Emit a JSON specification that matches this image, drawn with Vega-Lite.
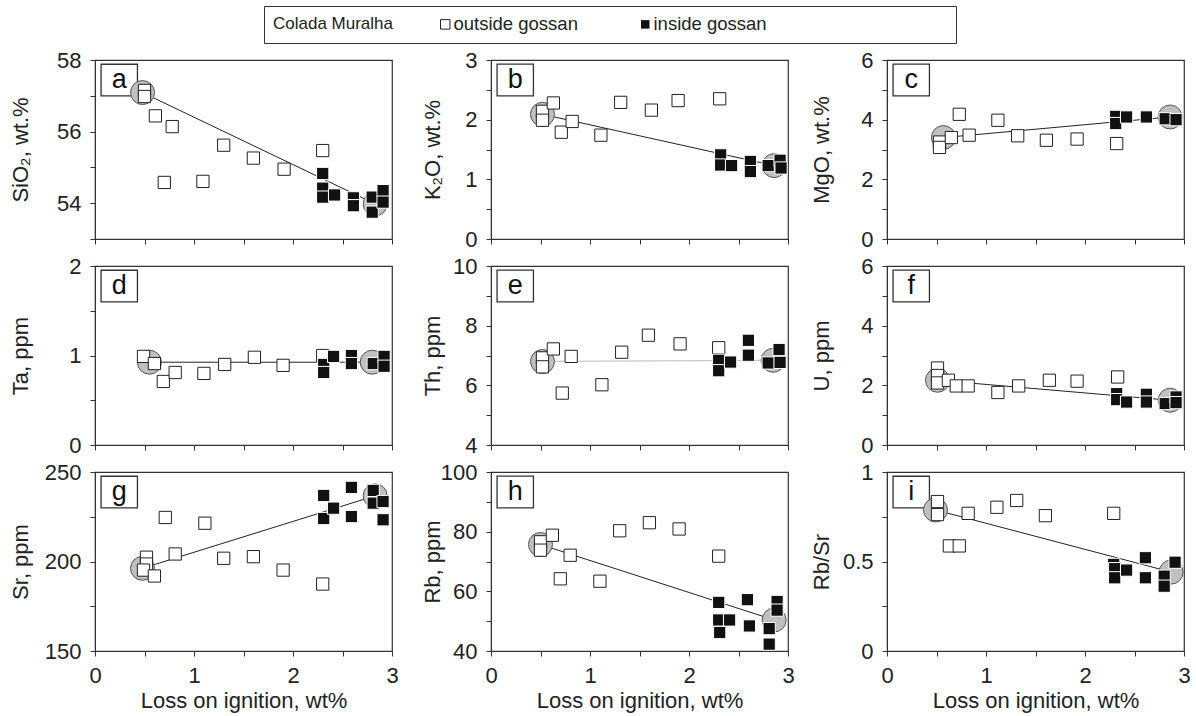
{
  "$schema": "https://vega.github.io/schema/vega-lite/v6.json",
  "padding": {"left": 8, "top": 5, "right": 5, "bottom": 3},
  "bounds": "flush",
  "columns": 3,
  "spacing": {"row": 27, "column": 99},
  "datasets": {
    "ends": [
      {"panel": "a", "loi": 0.48, "value": 57.09}, {"panel": "a", "loi": 2.83, "value": 53.98},
      {"panel": "b", "loi": 0.52, "value": 2.09}, {"panel": "b", "loi": 2.86, "value": 1.23},
      {"panel": "c", "loi": 0.57, "value": 3.40}, {"panel": "c", "loi": 2.86, "value": 4.09},
      {"panel": "d", "loi": 0.55, "value": 0.925}, {"panel": "d", "loi": 2.80, "value": 0.925},
      {"panel": "e", "loi": 0.52, "value": 6.80}, {"panel": "e", "loi": 2.85, "value": 6.84},
      {"panel": "f", "loi": 0.51, "value": 2.17}, {"panel": "f", "loi": 2.86, "value": 1.50},
      {"panel": "g", "loi": 0.48, "value": 196.2}, {"panel": "g", "loi": 2.83, "value": 236.7},
      {"panel": "h", "loi": 0.50, "value": 75.7}, {"panel": "h", "loi": 2.86, "value": 50.4},
      {"panel": "i", "loi": 0.49, "value": 0.788}, {"panel": "i", "loi": 2.87, "value": 0.441}
    ],
    "pts": [
      {"panel": "a", "loi": 0.50, "value": 57.15, "group": "outside gossan"},
      {"panel": "a", "loi": 0.50, "value": 56.98, "group": "outside gossan"},
      {"panel": "a", "loi": 0.61, "value": 56.44, "group": "outside gossan"},
      {"panel": "a", "loi": 0.78, "value": 56.14, "group": "outside gossan"},
      {"panel": "a", "loi": 0.70, "value": 54.58, "group": "outside gossan"},
      {"panel": "a", "loi": 1.09, "value": 54.61, "group": "outside gossan"},
      {"panel": "a", "loi": 1.30, "value": 55.62, "group": "outside gossan"},
      {"panel": "a", "loi": 1.60, "value": 55.26, "group": "outside gossan"},
      {"panel": "a", "loi": 1.91, "value": 54.95, "group": "outside gossan"},
      {"panel": "a", "loi": 2.30, "value": 55.47, "group": "outside gossan"},
      {"panel": "a", "loi": 2.30, "value": 54.83, "group": "inside gossan"},
      {"panel": "a", "loi": 2.30, "value": 54.42, "group": "inside gossan"},
      {"panel": "a", "loi": 2.30, "value": 54.17, "group": "inside gossan"},
      {"panel": "a", "loi": 2.42, "value": 54.23, "group": "inside gossan"},
      {"panel": "a", "loi": 2.61, "value": 54.15, "group": "inside gossan"},
      {"panel": "a", "loi": 2.61, "value": 53.93, "group": "inside gossan"},
      {"panel": "a", "loi": 2.80, "value": 54.17, "group": "inside gossan"},
      {"panel": "a", "loi": 2.80, "value": 53.75, "group": "inside gossan"},
      {"panel": "a", "loi": 2.91, "value": 54.35, "group": "inside gossan"},
      {"panel": "a", "loi": 2.91, "value": 54.03, "group": "inside gossan"},

      {"panel": "b", "loi": 0.52, "value": 2.14, "group": "outside gossan"},
      {"panel": "b", "loi": 0.52, "value": 1.99, "group": "outside gossan"},
      {"panel": "b", "loi": 0.63, "value": 2.28, "group": "outside gossan"},
      {"panel": "b", "loi": 0.71, "value": 1.79, "group": "outside gossan"},
      {"panel": "b", "loi": 0.82, "value": 1.97, "group": "outside gossan"},
      {"panel": "b", "loi": 1.11, "value": 1.74, "group": "outside gossan"},
      {"panel": "b", "loi": 1.31, "value": 2.29, "group": "outside gossan"},
      {"panel": "b", "loi": 1.62, "value": 2.16, "group": "outside gossan"},
      {"panel": "b", "loi": 1.89, "value": 2.32, "group": "outside gossan"},
      {"panel": "b", "loi": 2.31, "value": 2.35, "group": "outside gossan"},
      {"panel": "b", "loi": 2.32, "value": 1.41, "group": "inside gossan"},
      {"panel": "b", "loi": 2.32, "value": 1.24, "group": "inside gossan"},
      {"panel": "b", "loi": 2.43, "value": 1.23, "group": "inside gossan"},
      {"panel": "b", "loi": 2.62, "value": 1.30, "group": "inside gossan"},
      {"panel": "b", "loi": 2.62, "value": 1.13, "group": "inside gossan"},
      {"panel": "b", "loi": 2.80, "value": 1.23, "group": "inside gossan"},
      {"panel": "b", "loi": 2.92, "value": 1.32, "group": "inside gossan"},
      {"panel": "b", "loi": 2.93, "value": 1.19, "group": "inside gossan"},

      {"panel": "c", "loi": 0.53, "value": 3.25, "group": "outside gossan"},
      {"panel": "c", "loi": 0.53, "value": 3.07, "group": "outside gossan"},
      {"panel": "c", "loi": 0.65, "value": 3.40, "group": "outside gossan"},
      {"panel": "c", "loi": 0.73, "value": 4.18, "group": "outside gossan"},
      {"panel": "c", "loi": 0.83, "value": 3.48, "group": "outside gossan"},
      {"panel": "c", "loi": 1.12, "value": 3.98, "group": "outside gossan"},
      {"panel": "c", "loi": 1.32, "value": 3.46, "group": "outside gossan"},
      {"panel": "c", "loi": 1.61, "value": 3.31, "group": "outside gossan"},
      {"panel": "c", "loi": 1.92, "value": 3.35, "group": "outside gossan"},
      {"panel": "c", "loi": 2.32, "value": 3.20, "group": "outside gossan"},
      {"panel": "c", "loi": 2.31, "value": 4.11, "group": "inside gossan"},
      {"panel": "c", "loi": 2.31, "value": 3.87, "group": "inside gossan"},
      {"panel": "c", "loi": 2.42, "value": 4.09, "group": "inside gossan"},
      {"panel": "c", "loi": 2.62, "value": 4.09, "group": "inside gossan"},
      {"panel": "c", "loi": 2.81, "value": 4.03, "group": "inside gossan"},
      {"panel": "c", "loi": 2.92, "value": 4.00, "group": "inside gossan"},

      {"panel": "d", "loi": 0.49, "value": 0.99, "group": "outside gossan"},
      {"panel": "d", "loi": 0.60, "value": 0.91, "group": "outside gossan"},
      {"panel": "d", "loi": 0.69, "value": 0.71, "group": "outside gossan"},
      {"panel": "d", "loi": 0.81, "value": 0.81, "group": "outside gossan"},
      {"panel": "d", "loi": 1.10, "value": 0.80, "group": "outside gossan"},
      {"panel": "d", "loi": 1.31, "value": 0.90, "group": "outside gossan"},
      {"panel": "d", "loi": 1.61, "value": 0.98, "group": "outside gossan"},
      {"panel": "d", "loi": 1.90, "value": 0.89, "group": "outside gossan"},
      {"panel": "d", "loi": 2.30, "value": 1.00, "group": "outside gossan"},
      {"panel": "d", "loi": 2.31, "value": 0.90, "group": "inside gossan"},
      {"panel": "d", "loi": 2.31, "value": 0.81, "group": "inside gossan"},
      {"panel": "d", "loi": 2.41, "value": 0.99, "group": "inside gossan"},
      {"panel": "d", "loi": 2.59, "value": 1.00, "group": "inside gossan"},
      {"panel": "d", "loi": 2.59, "value": 0.91, "group": "inside gossan"},
      {"panel": "d", "loi": 2.81, "value": 0.91, "group": "inside gossan"},
      {"panel": "d", "loi": 2.92, "value": 0.99, "group": "inside gossan"},
      {"panel": "d", "loi": 2.92, "value": 0.88, "group": "inside gossan"},

      {"panel": "e", "loi": 0.52, "value": 6.92, "group": "outside gossan"},
      {"panel": "e", "loi": 0.52, "value": 6.62, "group": "outside gossan"},
      {"panel": "e", "loi": 0.63, "value": 7.22, "group": "outside gossan"},
      {"panel": "e", "loi": 0.72, "value": 5.74, "group": "outside gossan"},
      {"panel": "e", "loi": 0.81, "value": 6.97, "group": "outside gossan"},
      {"panel": "e", "loi": 1.12, "value": 6.02, "group": "outside gossan"},
      {"panel": "e", "loi": 1.32, "value": 7.11, "group": "outside gossan"},
      {"panel": "e", "loi": 1.59, "value": 7.68, "group": "outside gossan"},
      {"panel": "e", "loi": 1.91, "value": 7.39, "group": "outside gossan"},
      {"panel": "e", "loi": 2.30, "value": 7.26, "group": "outside gossan"},
      {"panel": "e", "loi": 2.30, "value": 6.84, "group": "inside gossan"},
      {"panel": "e", "loi": 2.30, "value": 6.49, "group": "inside gossan"},
      {"panel": "e", "loi": 2.42, "value": 6.78, "group": "inside gossan"},
      {"panel": "e", "loi": 2.60, "value": 7.51, "group": "inside gossan"},
      {"panel": "e", "loi": 2.60, "value": 7.01, "group": "inside gossan"},
      {"panel": "e", "loi": 2.80, "value": 6.75, "group": "inside gossan"},
      {"panel": "e", "loi": 2.91, "value": 7.20, "group": "inside gossan"},
      {"panel": "e", "loi": 2.92, "value": 6.77, "group": "inside gossan"},

      {"panel": "f", "loi": 0.51, "value": 2.58, "group": "outside gossan"},
      {"panel": "f", "loi": 0.51, "value": 2.33, "group": "outside gossan"},
      {"panel": "f", "loi": 0.51, "value": 2.08, "group": "outside gossan"},
      {"panel": "f", "loi": 0.62, "value": 2.17, "group": "outside gossan"},
      {"panel": "f", "loi": 0.70, "value": 1.98, "group": "outside gossan"},
      {"panel": "f", "loi": 0.82, "value": 1.98, "group": "outside gossan"},
      {"panel": "f", "loi": 1.12, "value": 1.76, "group": "outside gossan"},
      {"panel": "f", "loi": 1.33, "value": 1.98, "group": "outside gossan"},
      {"panel": "f", "loi": 1.64, "value": 2.17, "group": "outside gossan"},
      {"panel": "f", "loi": 1.92, "value": 2.14, "group": "outside gossan"},
      {"panel": "f", "loi": 2.33, "value": 2.28, "group": "outside gossan"},
      {"panel": "f", "loi": 2.32, "value": 1.72, "group": "inside gossan"},
      {"panel": "f", "loi": 2.32, "value": 1.52, "group": "inside gossan"},
      {"panel": "f", "loi": 2.42, "value": 1.44, "group": "inside gossan"},
      {"panel": "f", "loi": 2.62, "value": 1.70, "group": "inside gossan"},
      {"panel": "f", "loi": 2.62, "value": 1.44, "group": "inside gossan"},
      {"panel": "f", "loi": 2.81, "value": 1.39, "group": "inside gossan"},
      {"panel": "f", "loi": 2.92, "value": 1.61, "group": "inside gossan"},
      {"panel": "f", "loi": 2.92, "value": 1.42, "group": "inside gossan"},

      {"panel": "g", "loi": 0.52, "value": 202.4, "group": "outside gossan"},
      {"panel": "g", "loi": 0.52, "value": 198.6, "group": "outside gossan"},
      {"panel": "g", "loi": 0.49, "value": 195.2, "group": "outside gossan"},
      {"panel": "g", "loi": 0.60, "value": 191.9, "group": "outside gossan"},
      {"panel": "g", "loi": 0.71, "value": 224.6, "group": "outside gossan"},
      {"panel": "g", "loi": 0.81, "value": 204.2, "group": "outside gossan"},
      {"panel": "g", "loi": 1.11, "value": 221.4, "group": "outside gossan"},
      {"panel": "g", "loi": 1.30, "value": 201.8, "group": "outside gossan"},
      {"panel": "g", "loi": 1.60, "value": 202.7, "group": "outside gossan"},
      {"panel": "g", "loi": 1.90, "value": 195.2, "group": "outside gossan"},
      {"panel": "g", "loi": 2.30, "value": 187.4, "group": "outside gossan"},
      {"panel": "g", "loi": 2.31, "value": 236.9, "group": "inside gossan"},
      {"panel": "g", "loi": 2.31, "value": 224.0, "group": "inside gossan"},
      {"panel": "g", "loi": 2.41, "value": 229.8, "group": "inside gossan"},
      {"panel": "g", "loi": 2.59, "value": 241.4, "group": "inside gossan"},
      {"panel": "g", "loi": 2.59, "value": 225.1, "group": "inside gossan"},
      {"panel": "g", "loi": 2.81, "value": 239.7, "group": "inside gossan"},
      {"panel": "g", "loi": 2.81, "value": 232.6, "group": "inside gossan"},
      {"panel": "g", "loi": 2.91, "value": 233.5, "group": "inside gossan"},
      {"panel": "g", "loi": 2.91, "value": 223.3, "group": "inside gossan"},

      {"panel": "h", "loi": 0.50, "value": 76.6, "group": "outside gossan"},
      {"panel": "h", "loi": 0.50, "value": 73.8, "group": "outside gossan"},
      {"panel": "h", "loi": 0.62, "value": 78.8, "group": "outside gossan"},
      {"panel": "h", "loi": 0.70, "value": 64.2, "group": "outside gossan"},
      {"panel": "h", "loi": 0.80, "value": 72.1, "group": "outside gossan"},
      {"panel": "h", "loi": 1.10, "value": 63.4, "group": "outside gossan"},
      {"panel": "h", "loi": 1.30, "value": 80.3, "group": "outside gossan"},
      {"panel": "h", "loi": 1.60, "value": 83.0, "group": "outside gossan"},
      {"panel": "h", "loi": 1.90, "value": 80.9, "group": "outside gossan"},
      {"panel": "h", "loi": 2.30, "value": 71.8, "group": "outside gossan"},
      {"panel": "h", "loi": 2.30, "value": 56.3, "group": "inside gossan"},
      {"panel": "h", "loi": 2.30, "value": 50.4, "group": "inside gossan"},
      {"panel": "h", "loi": 2.31, "value": 46.2, "group": "inside gossan"},
      {"panel": "h", "loi": 2.41, "value": 50.4, "group": "inside gossan"},
      {"panel": "h", "loi": 2.59, "value": 57.2, "group": "inside gossan"},
      {"panel": "h", "loi": 2.61, "value": 48.4, "group": "inside gossan"},
      {"panel": "h", "loi": 2.81, "value": 47.5, "group": "inside gossan"},
      {"panel": "h", "loi": 2.81, "value": 42.3, "group": "inside gossan"},
      {"panel": "h", "loi": 2.89, "value": 56.6, "group": "inside gossan"},
      {"panel": "h", "loi": 2.89, "value": 53.7, "group": "inside gossan"},

      {"panel": "i", "loi": 0.51, "value": 0.835, "group": "outside gossan"},
      {"panel": "i", "loi": 0.51, "value": 0.762, "group": "outside gossan"},
      {"panel": "i", "loi": 0.63, "value": 0.587, "group": "outside gossan"},
      {"panel": "i", "loi": 0.73, "value": 0.587, "group": "outside gossan"},
      {"panel": "i", "loi": 0.82, "value": 0.769, "group": "outside gossan"},
      {"panel": "i", "loi": 1.11, "value": 0.803, "group": "outside gossan"},
      {"panel": "i", "loi": 1.31, "value": 0.841, "group": "outside gossan"},
      {"panel": "i", "loi": 1.60, "value": 0.756, "group": "outside gossan"},
      {"panel": "i", "loi": 2.29, "value": 0.769, "group": "outside gossan"},
      {"panel": "i", "loi": 2.29, "value": 0.484, "group": "inside gossan"},
      {"panel": "i", "loi": 2.30, "value": 0.460, "group": "inside gossan"},
      {"panel": "i", "loi": 2.30, "value": 0.409, "group": "inside gossan"},
      {"panel": "i", "loi": 2.42, "value": 0.452, "group": "inside gossan"},
      {"panel": "i", "loi": 2.61, "value": 0.521, "group": "inside gossan"},
      {"panel": "i", "loi": 2.61, "value": 0.409, "group": "inside gossan"},
      {"panel": "i", "loi": 2.80, "value": 0.418, "group": "inside gossan"},
      {"panel": "i", "loi": 2.80, "value": 0.362, "group": "inside gossan"},
      {"panel": "i", "loi": 2.91, "value": 0.496, "group": "inside gossan"}
    ]
  },
  "concat": [
    {
      "width": 297, "height": 179,
      "encoding": {
        "x": {"type": "quantitative", "scale": {"domain": [0, 3], "nice": false}, "axis": {"values": [0, 0.5, 1, 1.5, 2, 2.5, 3], "labels": false, "title": null}},
        "y": {"type": "quantitative", "scale": {"domain": [53, 58], "nice": false, "zero": false}, "axis": {"title": "SiO₂, wt.%", "titleX": -63, "values": [53, 54, 55, 56, 57, 58], "labelExpr": "datum.value % 2 == 0 ? datum.label : ''"}}
      },
      "layer": [
        {"data": {"values": [{"letter": "a"}]}, "mark": {"type": "point", "shape": "M-1.15,-1L1.15,-1L1.15,1L-1.15,1Z", "size": 1000, "filled": true, "fill": "white", "stroke": "#333", "strokeWidth": 1.3, "opacity": 1}, "encoding": {"x": {"datum": 0.245}, "y": {"datum": 57.44}}},
        {"data": {"values": [{"letter": "a"}]}, "mark": {"type": "text", "fontSize": 27, "color": "#111"}, "encoding": {"x": {"datum": 0.245}, "y": {"datum": 57.44}, "text": {"field": "letter", "type": "nominal"}}},
        {"data": {"name": "ends"}, "transform": [{"filter": "datum.panel == 'a'"}], "mark": {"type": "line", "color": "#222", "strokeWidth": 1}, "encoding": {"x": {"field": "loi"}, "y": {"field": "value"}}},
        {"data": {"name": "ends"}, "transform": [{"filter": "datum.panel == 'a'"}], "mark": {"type": "point", "shape": "circle", "filled": true, "fill": "#c0c0c0", "stroke": "#555", "strokeWidth": 1, "size": 576, "opacity": 1}, "encoding": {"x": {"field": "loi"}, "y": {"field": "value"}}},
        {"data": {"name": "pts"}, "transform": [{"filter": "datum.panel == 'a'"}], "mark": {"type": "point", "shape": "square", "filled": true, "size": 150, "strokeWidth": 1, "opacity": 1},
         "encoding": {
           "x": {"field": "loi"}, "y": {"field": "value"},
           "fill": {"field": "group", "type": "nominal", "title": "Colada Muralha", "scale": {"domain": ["outside gossan", "inside gossan"], "range": ["white", "#111"]},
                    "legend": {"orient": "none", "legendX": 169, "legendY": -54, "direction": "horizontal", "titleOrient": "left", "labelLimit": 600, "labelExpr": "datum.value == 'inside gossan' ? pad(datum.label, 48, '\u00a0') + '\u200b' : datum.label"}},
           "stroke": {"field": "group", "type": "nominal", "scale": {"domain": ["outside gossan", "inside gossan"], "range": ["#222", "white"]}, "legend": null}
         }}
      ]
    },
    {
      "width": 297, "height": 179,
      "encoding": {
        "x": {"type": "quantitative", "scale": {"domain": [0, 3], "nice": false}, "axis": {"values": [0, 0.5, 1, 1.5, 2, 2.5, 3], "labels": false, "title": null}},
        "y": {"type": "quantitative", "scale": {"domain": [0, 3], "nice": false, "zero": false}, "axis": {"title": "K₂O, wt.%", "titleX": -47, "values": [0, 0.5, 1, 1.5, 2, 2.5, 3], "labelExpr": "datum.value % 1 == 0 ? datum.label : ''"}}
      },
      "layer": [
        {"data": {"values": [{"letter": "b"}]}, "mark": {"type": "point", "shape": "M-1.15,-1L1.15,-1L1.15,1L-1.15,1Z", "size": 1000, "filled": true, "fill": "white", "stroke": "#333", "strokeWidth": 1.3, "opacity": 1}, "encoding": {"x": {"datum": 0.245}, "y": {"datum": 2.665}}},
        {"data": {"values": [{"letter": "b"}]}, "mark": {"type": "text", "fontSize": 27, "color": "#111"}, "encoding": {"x": {"datum": 0.245}, "y": {"datum": 2.665}, "text": {"field": "letter", "type": "nominal"}}},
        {"data": {"name": "ends"}, "transform": [{"filter": "datum.panel == 'b'"}], "mark": {"type": "line", "color": "#222", "strokeWidth": 1}, "encoding": {"x": {"field": "loi"}, "y": {"field": "value"}}},
        {"data": {"name": "ends"}, "transform": [{"filter": "datum.panel == 'b'"}], "mark": {"type": "point", "shape": "circle", "filled": true, "fill": "#c0c0c0", "stroke": "#555", "strokeWidth": 1, "size": 576, "opacity": 1}, "encoding": {"x": {"field": "loi"}, "y": {"field": "value"}}},
        {"data": {"name": "pts"}, "transform": [{"filter": "datum.panel == 'b'"}], "mark": {"type": "point", "shape": "square", "filled": true, "size": 150, "strokeWidth": 1, "opacity": 1},
         "encoding": {
           "x": {"field": "loi"}, "y": {"field": "value"},
           "fill": {"field": "group", "type": "nominal", "title": "Colada Muralha", "scale": {"domain": ["outside gossan", "inside gossan"], "range": ["white", "#111"]}},
           "stroke": {"field": "group", "type": "nominal", "scale": {"domain": ["outside gossan", "inside gossan"], "range": ["#222", "white"]}, "legend": null}
         }}
      ]
    },
    {
      "width": 297, "height": 179,
      "encoding": {
        "x": {"type": "quantitative", "scale": {"domain": [0, 3], "nice": false}, "axis": {"values": [0, 0.5, 1, 1.5, 2, 2.5, 3], "labels": false, "title": null}},
        "y": {"type": "quantitative", "scale": {"domain": [0, 6], "nice": false, "zero": false}, "axis": {"title": "MgO, wt.%", "titleX": -54, "values": [0, 1, 2, 3, 4, 5, 6], "labelExpr": "datum.value % 2 == 0 ? datum.label : ''"}}
      },
      "layer": [
        {"data": {"values": [{"letter": "c"}]}, "mark": {"type": "point", "shape": "M-1.15,-1L1.15,-1L1.15,1L-1.15,1Z", "size": 1000, "filled": true, "fill": "white", "stroke": "#333", "strokeWidth": 1.3, "opacity": 1}, "encoding": {"x": {"datum": 0.245}, "y": {"datum": 5.33}}},
        {"data": {"values": [{"letter": "c"}]}, "mark": {"type": "text", "fontSize": 27, "color": "#111"}, "encoding": {"x": {"datum": 0.245}, "y": {"datum": 5.33}, "text": {"field": "letter", "type": "nominal"}}},
        {"data": {"name": "ends"}, "transform": [{"filter": "datum.panel == 'c'"}], "mark": {"type": "line", "color": "#222", "strokeWidth": 1}, "encoding": {"x": {"field": "loi"}, "y": {"field": "value"}}},
        {"data": {"name": "ends"}, "transform": [{"filter": "datum.panel == 'c'"}], "mark": {"type": "point", "shape": "circle", "filled": true, "fill": "#c0c0c0", "stroke": "#555", "strokeWidth": 1, "size": 576, "opacity": 1}, "encoding": {"x": {"field": "loi"}, "y": {"field": "value"}}},
        {"data": {"name": "pts"}, "transform": [{"filter": "datum.panel == 'c'"}], "mark": {"type": "point", "shape": "square", "filled": true, "size": 150, "strokeWidth": 1, "opacity": 1},
         "encoding": {
           "x": {"field": "loi"}, "y": {"field": "value"},
           "fill": {"field": "group", "type": "nominal", "title": "Colada Muralha", "scale": {"domain": ["outside gossan", "inside gossan"], "range": ["white", "#111"]}},
           "stroke": {"field": "group", "type": "nominal", "scale": {"domain": ["outside gossan", "inside gossan"], "range": ["#222", "white"]}, "legend": null}
         }}
      ]
    },
    {
      "width": 297, "height": 179,
      "encoding": {
        "x": {"type": "quantitative", "scale": {"domain": [0, 3], "nice": false}, "axis": {"values": [0, 0.5, 1, 1.5, 2, 2.5, 3], "labels": false, "title": null}},
        "y": {"type": "quantitative", "scale": {"domain": [0, 2], "nice": false, "zero": false}, "axis": {"title": "Ta, ppm", "titleX": -63, "values": [0, 0.5, 1, 1.5, 2], "labelExpr": "datum.value % 1 == 0 ? datum.label : ''"}}
      },
      "layer": [
        {"data": {"values": [{"letter": "d"}]}, "mark": {"type": "point", "shape": "M-1.15,-1L1.15,-1L1.15,1L-1.15,1Z", "size": 1000, "filled": true, "fill": "white", "stroke": "#333", "strokeWidth": 1.3, "opacity": 1}, "encoding": {"x": {"datum": 0.245}, "y": {"datum": 1.776}}},
        {"data": {"values": [{"letter": "d"}]}, "mark": {"type": "text", "fontSize": 27, "color": "#111"}, "encoding": {"x": {"datum": 0.245}, "y": {"datum": 1.776}, "text": {"field": "letter", "type": "nominal"}}},
        {"data": {"name": "ends"}, "transform": [{"filter": "datum.panel == 'd'"}], "mark": {"type": "line", "color": "#222", "strokeWidth": 1}, "encoding": {"x": {"field": "loi"}, "y": {"field": "value"}}},
        {"data": {"name": "ends"}, "transform": [{"filter": "datum.panel == 'd'"}], "mark": {"type": "point", "shape": "circle", "filled": true, "fill": "#c0c0c0", "stroke": "#555", "strokeWidth": 1, "size": 576, "opacity": 1}, "encoding": {"x": {"field": "loi"}, "y": {"field": "value"}}},
        {"data": {"name": "pts"}, "transform": [{"filter": "datum.panel == 'd'"}], "mark": {"type": "point", "shape": "square", "filled": true, "size": 150, "strokeWidth": 1, "opacity": 1},
         "encoding": {
           "x": {"field": "loi"}, "y": {"field": "value"},
           "fill": {"field": "group", "type": "nominal", "title": "Colada Muralha", "scale": {"domain": ["outside gossan", "inside gossan"], "range": ["white", "#111"]}},
           "stroke": {"field": "group", "type": "nominal", "scale": {"domain": ["outside gossan", "inside gossan"], "range": ["#222", "white"]}, "legend": null}
         }}
      ]
    },
    {
      "width": 297, "height": 179,
      "encoding": {
        "x": {"type": "quantitative", "scale": {"domain": [0, 3], "nice": false}, "axis": {"values": [0, 0.5, 1, 1.5, 2, 2.5, 3], "labels": false, "title": null}},
        "y": {"type": "quantitative", "scale": {"domain": [4, 10], "nice": false, "zero": false}, "axis": {"title": "Th, ppm", "titleX": -47, "values": [4, 5, 6, 7, 8, 9, 10], "labelExpr": "datum.value % 2 == 0 ? datum.label : ''"}}
      },
      "layer": [
        {"data": {"values": [{"letter": "e"}]}, "mark": {"type": "point", "shape": "M-1.15,-1L1.15,-1L1.15,1L-1.15,1Z", "size": 1000, "filled": true, "fill": "white", "stroke": "#333", "strokeWidth": 1.3, "opacity": 1}, "encoding": {"x": {"datum": 0.245}, "y": {"datum": 9.33}}},
        {"data": {"values": [{"letter": "e"}]}, "mark": {"type": "text", "fontSize": 27, "color": "#111"}, "encoding": {"x": {"datum": 0.245}, "y": {"datum": 9.33}, "text": {"field": "letter", "type": "nominal"}}},
        {"data": {"name": "ends"}, "transform": [{"filter": "datum.panel == 'e'"}], "mark": {"type": "line", "color": "#c8c8c8", "strokeWidth": 1.2}, "encoding": {"x": {"field": "loi"}, "y": {"field": "value"}}},
        {"data": {"name": "ends"}, "transform": [{"filter": "datum.panel == 'e'"}], "mark": {"type": "point", "shape": "circle", "filled": true, "fill": "#c0c0c0", "stroke": "#555", "strokeWidth": 1, "size": 576, "opacity": 1}, "encoding": {"x": {"field": "loi"}, "y": {"field": "value"}}},
        {"data": {"name": "pts"}, "transform": [{"filter": "datum.panel == 'e'"}], "mark": {"type": "point", "shape": "square", "filled": true, "size": 150, "strokeWidth": 1, "opacity": 1},
         "encoding": {
           "x": {"field": "loi"}, "y": {"field": "value"},
           "fill": {"field": "group", "type": "nominal", "title": "Colada Muralha", "scale": {"domain": ["outside gossan", "inside gossan"], "range": ["white", "#111"]}},
           "stroke": {"field": "group", "type": "nominal", "scale": {"domain": ["outside gossan", "inside gossan"], "range": ["#222", "white"]}, "legend": null}
         }}
      ]
    },
    {
      "width": 297, "height": 179,
      "encoding": {
        "x": {"type": "quantitative", "scale": {"domain": [0, 3], "nice": false}, "axis": {"values": [0, 0.5, 1, 1.5, 2, 2.5, 3], "labels": false, "title": null}},
        "y": {"type": "quantitative", "scale": {"domain": [0, 6], "nice": false, "zero": false}, "axis": {"title": "U, ppm", "titleX": -54, "values": [0, 1, 2, 3, 4, 5, 6], "labelExpr": "datum.value % 2 == 0 ? datum.label : ''"}}
      },
      "layer": [
        {"data": {"values": [{"letter": "f"}]}, "mark": {"type": "point", "shape": "M-1.15,-1L1.15,-1L1.15,1L-1.15,1Z", "size": 1000, "filled": true, "fill": "white", "stroke": "#333", "strokeWidth": 1.3, "opacity": 1}, "encoding": {"x": {"datum": 0.245}, "y": {"datum": 5.33}}},
        {"data": {"values": [{"letter": "f"}]}, "mark": {"type": "text", "fontSize": 27, "color": "#111"}, "encoding": {"x": {"datum": 0.245}, "y": {"datum": 5.33}, "text": {"field": "letter", "type": "nominal"}}},
        {"data": {"name": "ends"}, "transform": [{"filter": "datum.panel == 'f'"}], "mark": {"type": "line", "color": "#222", "strokeWidth": 1}, "encoding": {"x": {"field": "loi"}, "y": {"field": "value"}}},
        {"data": {"name": "ends"}, "transform": [{"filter": "datum.panel == 'f'"}], "mark": {"type": "point", "shape": "circle", "filled": true, "fill": "#c0c0c0", "stroke": "#555", "strokeWidth": 1, "size": 576, "opacity": 1}, "encoding": {"x": {"field": "loi"}, "y": {"field": "value"}}},
        {"data": {"name": "pts"}, "transform": [{"filter": "datum.panel == 'f'"}], "mark": {"type": "point", "shape": "square", "filled": true, "size": 150, "strokeWidth": 1, "opacity": 1},
         "encoding": {
           "x": {"field": "loi"}, "y": {"field": "value"},
           "fill": {"field": "group", "type": "nominal", "title": "Colada Muralha", "scale": {"domain": ["outside gossan", "inside gossan"], "range": ["white", "#111"]}},
           "stroke": {"field": "group", "type": "nominal", "scale": {"domain": ["outside gossan", "inside gossan"], "range": ["#222", "white"]}, "legend": null}
         }}
      ]
    },
    {
      "width": 297, "height": 179,
      "encoding": {
        "x": {"type": "quantitative", "scale": {"domain": [0, 3], "nice": false}, "axis": {"title": "Loss on ignition, wt%", "values": [0, 0.5, 1, 1.5, 2, 2.5, 3], "labelExpr": "datum.value % 1 == 0 ? datum.label : ''"}},
        "y": {"type": "quantitative", "scale": {"domain": [150, 250], "nice": false, "zero": false}, "axis": {"title": "Sr, ppm", "titleX": -63, "values": [150, 175, 200, 225, 250], "labelExpr": "datum.value % 50 == 0 ? datum.label : ''"}}
      },
      "layer": [
        {"data": {"values": [{"letter": "g"}]}, "mark": {"type": "point", "shape": "M-1.15,-1L1.15,-1L1.15,1L-1.15,1Z", "size": 1000, "filled": true, "fill": "white", "stroke": "#333", "strokeWidth": 1.3, "opacity": 1}, "encoding": {"x": {"datum": 0.245}, "y": {"datum": 238.8}}},
        {"data": {"values": [{"letter": "g"}]}, "mark": {"type": "text", "fontSize": 27, "color": "#111"}, "encoding": {"x": {"datum": 0.245}, "y": {"datum": 238.8}, "text": {"field": "letter", "type": "nominal"}}},
        {"data": {"name": "ends"}, "transform": [{"filter": "datum.panel == 'g'"}], "mark": {"type": "line", "color": "#222", "strokeWidth": 1}, "encoding": {"x": {"field": "loi"}, "y": {"field": "value"}}},
        {"data": {"name": "ends"}, "transform": [{"filter": "datum.panel == 'g'"}], "mark": {"type": "point", "shape": "circle", "filled": true, "fill": "#c0c0c0", "stroke": "#555", "strokeWidth": 1, "size": 576, "opacity": 1}, "encoding": {"x": {"field": "loi"}, "y": {"field": "value"}}},
        {"data": {"name": "pts"}, "transform": [{"filter": "datum.panel == 'g'"}], "mark": {"type": "point", "shape": "square", "filled": true, "size": 150, "strokeWidth": 1, "opacity": 1},
         "encoding": {
           "x": {"field": "loi"}, "y": {"field": "value"},
           "fill": {"field": "group", "type": "nominal", "title": "Colada Muralha", "scale": {"domain": ["outside gossan", "inside gossan"], "range": ["white", "#111"]}},
           "stroke": {"field": "group", "type": "nominal", "scale": {"domain": ["outside gossan", "inside gossan"], "range": ["#222", "white"]}, "legend": null}
         }}
      ]
    },
    {
      "width": 297, "height": 179,
      "encoding": {
        "x": {"type": "quantitative", "scale": {"domain": [0, 3], "nice": false}, "axis": {"title": "Loss on ignition, wt%", "values": [0, 0.5, 1, 1.5, 2, 2.5, 3], "labelExpr": "datum.value % 1 == 0 ? datum.label : ''"}},
        "y": {"type": "quantitative", "scale": {"domain": [40, 100], "nice": false, "zero": false}, "axis": {"title": "Rb, ppm", "titleX": -47, "values": [40, 50, 60, 70, 80, 90, 100], "labelExpr": "datum.value % 20 == 0 ? datum.label : ''"}}
      },
      "layer": [
        {"data": {"values": [{"letter": "h"}]}, "mark": {"type": "point", "shape": "M-1.15,-1L1.15,-1L1.15,1L-1.15,1Z", "size": 1000, "filled": true, "fill": "white", "stroke": "#333", "strokeWidth": 1.3, "opacity": 1}, "encoding": {"x": {"datum": 0.245}, "y": {"datum": 93.3}}},
        {"data": {"values": [{"letter": "h"}]}, "mark": {"type": "text", "fontSize": 27, "color": "#111"}, "encoding": {"x": {"datum": 0.245}, "y": {"datum": 93.3}, "text": {"field": "letter", "type": "nominal"}}},
        {"data": {"name": "ends"}, "transform": [{"filter": "datum.panel == 'h'"}], "mark": {"type": "line", "color": "#222", "strokeWidth": 1}, "encoding": {"x": {"field": "loi"}, "y": {"field": "value"}}},
        {"data": {"name": "ends"}, "transform": [{"filter": "datum.panel == 'h'"}], "mark": {"type": "point", "shape": "circle", "filled": true, "fill": "#c0c0c0", "stroke": "#555", "strokeWidth": 1, "size": 576, "opacity": 1}, "encoding": {"x": {"field": "loi"}, "y": {"field": "value"}}},
        {"data": {"name": "pts"}, "transform": [{"filter": "datum.panel == 'h'"}], "mark": {"type": "point", "shape": "square", "filled": true, "size": 150, "strokeWidth": 1, "opacity": 1},
         "encoding": {
           "x": {"field": "loi"}, "y": {"field": "value"},
           "fill": {"field": "group", "type": "nominal", "title": "Colada Muralha", "scale": {"domain": ["outside gossan", "inside gossan"], "range": ["white", "#111"]}},
           "stroke": {"field": "group", "type": "nominal", "scale": {"domain": ["outside gossan", "inside gossan"], "range": ["#222", "white"]}, "legend": null}
         }}
      ]
    },
    {
      "width": 297, "height": 179,
      "encoding": {
        "x": {"type": "quantitative", "scale": {"domain": [0, 3], "nice": false}, "axis": {"title": "Loss on ignition, wt%", "values": [0, 0.5, 1, 1.5, 2, 2.5, 3], "labelExpr": "datum.value % 1 == 0 ? datum.label : ''"}},
        "y": {"type": "quantitative", "scale": {"domain": [0, 1], "nice": false, "zero": false}, "axis": {"title": "Rb/Sr", "titleX": -54, "values": [0, 0.25, 0.5, 0.75, 1], "labelExpr": "datum.value % 0.5 == 0 ? datum.label : ''"}}
      },
      "layer": [
        {"data": {"values": [{"letter": "i"}]}, "mark": {"type": "point", "shape": "M-1.15,-1L1.15,-1L1.15,1L-1.15,1Z", "size": 1000, "filled": true, "fill": "white", "stroke": "#333", "strokeWidth": 1.3, "opacity": 1}, "encoding": {"x": {"datum": 0.245}, "y": {"datum": 0.888}}},
        {"data": {"values": [{"letter": "i"}]}, "mark": {"type": "text", "fontSize": 27, "color": "#111"}, "encoding": {"x": {"datum": 0.245}, "y": {"datum": 0.888}, "text": {"field": "letter", "type": "nominal"}}},
        {"data": {"name": "ends"}, "transform": [{"filter": "datum.panel == 'i'"}], "mark": {"type": "line", "color": "#222", "strokeWidth": 1}, "encoding": {"x": {"field": "loi"}, "y": {"field": "value"}}},
        {"data": {"name": "ends"}, "transform": [{"filter": "datum.panel == 'i'"}], "mark": {"type": "point", "shape": "circle", "filled": true, "fill": "#c0c0c0", "stroke": "#555", "strokeWidth": 1, "size": 576, "opacity": 1}, "encoding": {"x": {"field": "loi"}, "y": {"field": "value"}}},
        {"data": {"name": "pts"}, "transform": [{"filter": "datum.panel == 'i'"}], "mark": {"type": "point", "shape": "square", "filled": true, "size": 150, "strokeWidth": 1, "opacity": 1},
         "encoding": {
           "x": {"field": "loi"}, "y": {"field": "value"},
           "fill": {"field": "group", "type": "nominal", "title": "Colada Muralha", "scale": {"domain": ["outside gossan", "inside gossan"], "range": ["white", "#111"]}},
           "stroke": {"field": "group", "type": "nominal", "scale": {"domain": ["outside gossan", "inside gossan"], "range": ["#222", "white"]}, "legend": null}
         }}
      ]
    }
  ],
  "resolve": {"scale": {"fill": "shared", "stroke": "shared"}},
  "config": {
    "font": "Liberation Sans",
    "view": {"stroke": "#333", "strokeWidth": 1.2},
    "axis": {"labelFontSize": 22, "titleFontSize": 22, "titleFontWeight": "normal", "labelColor": "#222", "titleColor": "#222", "domainColor": "#333", "tickColor": "#333", "tickSize": 5, "labelPadding": 9, "grid": false, "labelFlush": false, "labelOverlap": false, "format": "~f"},
    "axisY": {"titlePadding": 20},
    "axisX": {"titlePadding": 4},
    "legend": {"titleFontSize": 17, "titleFontWeight": "normal", "titleColor": "#222", "labelFontSize": 18.5, "labelColor": "#222", "titlePadding": 42, "symbolType": "square", "symbolSize": 90, "symbolStrokeColor": "#222", "symbolStrokeWidth": 1, "columnPadding": 58, "labelOffset": -1, "strokeColor": "#333", "padding": 9}
  }
}
